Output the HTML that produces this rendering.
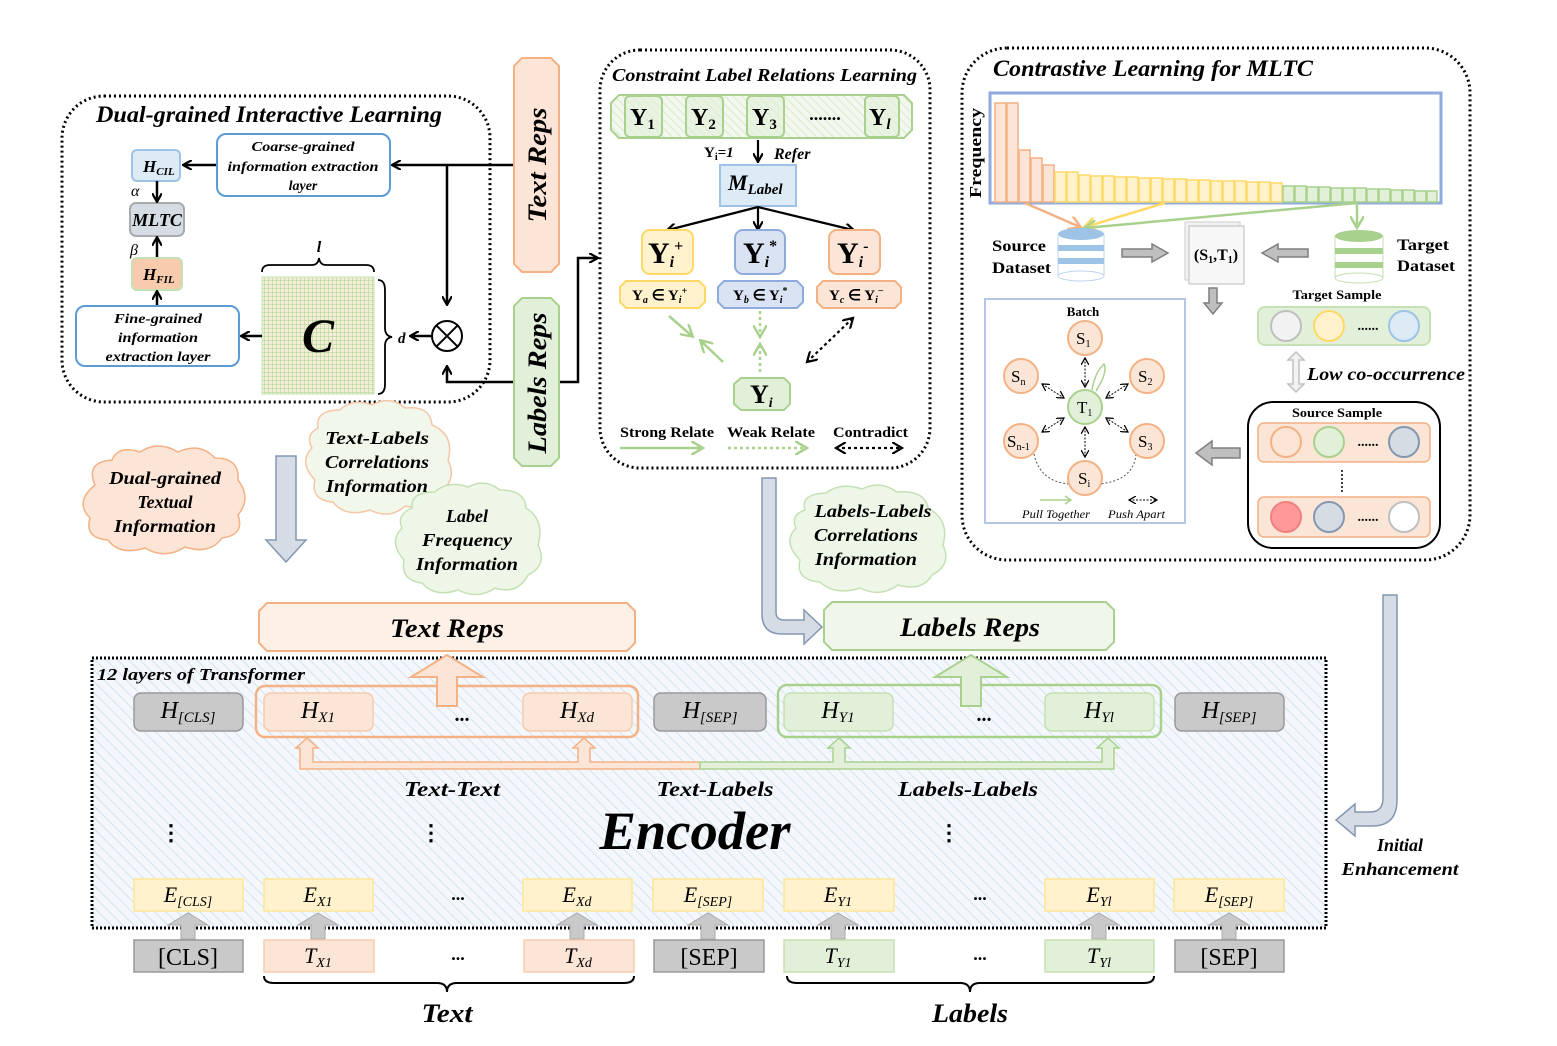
<!DOCTYPE html>
<html><head><meta charset="utf-8"><style>
html,body{margin:0;padding:0;background:#fff}
svg{display:block}
text{font-family:"Liberation Serif",serif}
.bi{font-weight:bold;font-style:italic}
.b{font-weight:bold}
</style></head><body>
<svg width="1557" height="1046" viewBox="0 0 1557 1046" xmlns="http://www.w3.org/2000/svg">
<defs>
<pattern id="hatch" width="8" height="8" patternUnits="userSpaceOnUse" patternTransform="rotate(-45)">
<rect width="8" height="8" fill="#f4f8fc"/><line x1="0" y1="0" x2="0" y2="8" stroke="#d5e2ef" stroke-width="2"/></pattern>
<pattern id="ghatch" width="6" height="6" patternUnits="userSpaceOnUse" patternTransform="rotate(-45)">
<rect width="6" height="6" fill="#f3f8ee"/><line x1="0" y1="0" x2="0" y2="6" stroke="#d9e9cc" stroke-width="2"/></pattern>
<pattern id="grid" width="4" height="4" patternUnits="userSpaceOnUse">
<rect width="4" height="4" fill="#f3efd6"/><path d="M0 0H4M0 0V4" stroke="#a9cf8f" stroke-width="1"/></pattern>
<marker id="ah" markerWidth="10" markerHeight="10" refX="8" refY="5" orient="auto" markerUnits="userSpaceOnUse"><path d="M0 0L9 5L0 10" fill="none" stroke="#000" stroke-width="2.2"/></marker>
<marker id="ahs" markerWidth="8" markerHeight="8" refX="7" refY="4" orient="auto-start-reverse" markerUnits="userSpaceOnUse"><path d="M0 0L7 4L0 8" fill="none" stroke="#000" stroke-width="1.3"/></marker>
<marker id="ahg" markerWidth="14" markerHeight="14" refX="11" refY="7" orient="auto" markerUnits="userSpaceOnUse"><path d="M0 0L12 7L0 14" fill="none" stroke="#a9d18e" stroke-width="2.5"/></marker>
<marker id="ahd" markerWidth="12" markerHeight="12" refX="10" refY="6" orient="auto-start-reverse" markerUnits="userSpaceOnUse"><path d="M0 0L10 6L0 12" fill="none" stroke="#000" stroke-width="2.2"/></marker>
<marker id="aho" markerWidth="14" markerHeight="14" refX="11" refY="7" orient="auto" markerUnits="userSpaceOnUse"><path d="M0 0L12 7L0 14" fill="none" stroke="#f4b183" stroke-width="2.5"/></marker>
<marker id="ahy" markerWidth="14" markerHeight="14" refX="11" refY="7" orient="auto" markerUnits="userSpaceOnUse"><path d="M0 0L12 7L0 14" fill="none" stroke="#ffd966" stroke-width="2.5"/></marker>
</defs>

<!-- ===== Box 1: Dual-grained ===== -->
<rect x="62" y="96" width="428" height="306" rx="42" fill="none" stroke="#000" stroke-width="3" stroke-dasharray="2 3"/>
<text x="96" y="122" class="bi" font-size="23" textLength="346" lengthAdjust="spacingAndGlyphs">Dual-grained Interactive Learning</text>
<rect x="132" y="150" width="48" height="31" rx="5" fill="#ddebf7" stroke="#9dc3e6" stroke-width="2"/>
<text x="143" y="172" class="bi" font-size="17">H<tspan font-size="11" dy="3">CIL</tspan></text>
<rect x="130" y="203" width="54" height="33" rx="6" fill="#d6dce4" stroke="#aaa" stroke-width="2"/>
<text x="157" y="226" class="bi" font-size="18" text-anchor="middle">MLTC</text>
<rect x="132" y="258" width="50" height="32" rx="5" fill="#f8cbad" stroke="#c5e0b4" stroke-width="2"/>
<text x="143" y="280" class="bi" font-size="17">H<tspan font-size="11" dy="3">FIL</tspan></text>
<text x="131" y="196" font-size="16" font-style="italic">α</text>
<text x="130" y="255" font-size="16" font-style="italic">β</text>
<line x1="157" y1="181" x2="157" y2="201" stroke="#000" stroke-width="2.5" marker-end="url(#ah)"/>
<line x1="157" y1="257" x2="157" y2="238" stroke="#000" stroke-width="2.5" marker-end="url(#ah)"/>
<line x1="157" y1="305" x2="157" y2="292" stroke="#000" stroke-width="2.5" marker-end="url(#ah)"/>
<rect x="217" y="134" width="173" height="62" rx="9" fill="#fff" stroke="#5b9bd5" stroke-width="2"/>
<text x="303" y="151" class="bi" font-size="14" text-anchor="middle" textLength="103" lengthAdjust="spacingAndGlyphs">Coarse-grained</text>
<text x="303" y="171" class="bi" font-size="14" text-anchor="middle" textLength="151" lengthAdjust="spacingAndGlyphs">information extraction</text>
<text x="303" y="190" class="bi" font-size="14" text-anchor="middle">layer</text>
<line x1="216" y1="165" x2="184" y2="165" stroke="#000" stroke-width="2.5" marker-end="url(#ah)"/>
<rect x="76" y="306" width="163" height="60" rx="9" fill="#fff" stroke="#5b9bd5" stroke-width="2"/>
<text x="158" y="323" class="bi" font-size="14" text-anchor="middle" textLength="88" lengthAdjust="spacingAndGlyphs">Fine-grained</text>
<text x="158" y="342" class="bi" font-size="14" text-anchor="middle" textLength="80" lengthAdjust="spacingAndGlyphs">information</text>
<text x="158" y="361" class="bi" font-size="14" text-anchor="middle" textLength="105" lengthAdjust="spacingAndGlyphs">extraction layer</text>
<rect x="262" y="277" width="112" height="117" fill="url(#grid)" stroke="#c5e0b4"/>
<text x="318" y="352" class="bi" font-size="48" text-anchor="middle">C</text>
<path d="M262 272 Q262 265 270 265 L312 265 Q318 265 319 258 Q320 265 326 265 L366 265 Q374 265 374 272" fill="none" stroke="#000" stroke-width="1.8"/>
<text x="319" y="252" class="bi" font-size="16" text-anchor="middle">l</text>
<path d="M378 280 Q385 280 385 290 L385 328 Q385 336 392 337 Q385 338 385 346 L385 384 Q385 394 378 394" fill="none" stroke="#000" stroke-width="1.8"/>
<text x="398" y="343" class="bi" font-size="15">d</text>
<line x1="262" y1="336" x2="242" y2="336" stroke="#000" stroke-width="2.5" marker-end="url(#ah)"/>
<circle cx="447" cy="336" r="15" fill="#fff" stroke="#000" stroke-width="2"/>
<path d="M436.4 325.4L457.6 346.6M457.6 325.4L436.4 346.6" stroke="#000" stroke-width="2"/>
<line x1="432" y1="336" x2="411" y2="336" stroke="#000" stroke-width="2.5" marker-end="url(#ah)"/>
<line x1="514" y1="165" x2="393" y2="165" stroke="#000" stroke-width="2.5" marker-end="url(#ah)"/>
<line x1="447" y1="165" x2="447" y2="304" stroke="#000" stroke-width="2.5" marker-end="url(#ah)"/>
<path d="M514 382 L447 382 L447 367" fill="none" stroke="#000" stroke-width="2.5" marker-end="url(#ah)"/>
<path d="M559 382 L578 382 L578 258 L597 258" fill="none" stroke="#000" stroke-width="2.5" marker-end="url(#ah)"/>

<!-- vertical reps boxes -->
<path d="M522 58 H551 L559 66 V264 L551 272 H522 L514 264 V66 Z" fill="#fce4d6" stroke="#f4b183" stroke-width="2"/>
<text transform="translate(546,165) rotate(-90)" class="bi" font-size="26" text-anchor="middle" textLength="115" lengthAdjust="spacingAndGlyphs">Text Reps</text>
<path d="M522 298 H551 L559 306 V458 L551 466 H522 L514 458 V306 Z" fill="#e2f0d9" stroke="#a9d18e" stroke-width="2"/>
<text transform="translate(546,383) rotate(-90)" class="bi" font-size="26" text-anchor="middle" textLength="141" lengthAdjust="spacingAndGlyphs">Labels Reps</text>

<!-- ===== Box 2: Constraint ===== -->
<rect x="600" y="50" width="330" height="418" rx="40" fill="none" stroke="#000" stroke-width="3" stroke-dasharray="2 3"/>
<text x="612" y="81" class="bi" font-size="18" textLength="305" lengthAdjust="spacingAndGlyphs">Constraint Label Relations Learning</text>
<path d="M619 95 H904 L912 103 V130 L904 138 H619 L611 130 V103 Z" fill="url(#ghatch)" stroke="#a9d18e" stroke-width="2"/>
<g fill="#e2f0d9" fill-opacity="0.6" stroke="#a9d18e" stroke-width="2">
<rect x="625" y="96" width="37" height="41" rx="5"/><rect x="686" y="96" width="37" height="41" rx="5"/>
<rect x="747" y="96" width="37" height="41" rx="5"/><rect x="865" y="96" width="34" height="41" rx="5"/></g>
<g class="b" font-size="24"><text x="630" y="125">Y<tspan font-size="15" dy="4">1</tspan></text>
<text x="691" y="125">Y<tspan font-size="15" dy="4">2</tspan></text>
<text x="752" y="125">Y<tspan font-size="15" dy="4">3</tspan></text>
<text x="869" y="125">Y<tspan font-size="15" dy="4" font-style="italic">l</tspan></text></g>
<text x="825" y="120" class="b" font-size="18" text-anchor="middle">.......</text>
<text x="704" y="157" class="b" font-size="15">Y<tspan font-size="10" dy="3">i</tspan><tspan dy="-3" font-style="italic">=1</tspan></text>
<line x1="758" y1="140" x2="758" y2="161" stroke="#000" stroke-width="2.2" marker-end="url(#ah)"/>
<text x="774" y="159" class="bi" font-size="16">Refer</text>
<rect x="720" y="165" width="76" height="41" fill="#ddebf7" stroke="#9dc3e6" stroke-width="2"/>
<text x="728" y="190" class="bi" font-size="22">M<tspan font-size="15" dy="4">Label</tspan></text>
<line x1="758" y1="207" x2="668" y2="230" stroke="#000" stroke-width="2.2" marker-end="url(#ah)"/>
<line x1="758" y1="207" x2="758" y2="229" stroke="#000" stroke-width="2.2" marker-end="url(#ah)"/>
<line x1="758" y1="207" x2="853" y2="230" stroke="#000" stroke-width="2.2" marker-end="url(#ah)"/>
<rect x="642" y="230" width="51" height="44" rx="8" fill="#fff2cc" stroke="#ffd966" stroke-width="2"/>
<rect x="735" y="230" width="50" height="44" rx="8" fill="#dae3f3" stroke="#8faadc" stroke-width="2"/>
<rect x="829" y="230" width="51" height="44" rx="8" fill="#fbe5d6" stroke="#f4b183" stroke-width="2"/>
<g class="b" font-size="30"><text x="648" y="263">Y<tspan font-size="16" dy="4" font-style="italic">i</tspan><tspan font-size="16" dy="-16">+</tspan></text>
<text x="743" y="263">Y<tspan font-size="16" dy="4" font-style="italic">i</tspan><tspan font-size="16" dy="-16">*</tspan></text>
<text x="837" y="263">Y<tspan font-size="16" dy="4" font-style="italic">i</tspan><tspan font-size="16" dy="-16">-</tspan></text></g>
<path d="M626 281 H699 L705 287 V302 L699 308 H626 L620 302 V287 Z" fill="#fff2cc" stroke="#ffd966" stroke-width="2"/>
<path d="M724 281 H797 L803 287 V302 L797 308 H724 L718 302 V287 Z" fill="#dae3f3" stroke="#8faadc" stroke-width="2"/>
<path d="M823 281 H895 L901 287 V302 L895 308 H823 L817 302 V287 Z" fill="#fbe5d6" stroke="#f4b183" stroke-width="2"/>
<g class="b" font-size="15"><text x="632" y="300">Y<tspan font-size="10" dy="3" font-style="italic">a</tspan><tspan dy="-3"> ∈ Y</tspan><tspan font-size="10" dy="3" font-style="italic">i</tspan><tspan font-size="10" dy="-9">+</tspan></text>
<text x="733" y="300">Y<tspan font-size="10" dy="3" font-style="italic">b</tspan><tspan dy="-3"> ∈ Y</tspan><tspan font-size="10" dy="3" font-style="italic">i</tspan><tspan font-size="10" dy="-9">*</tspan></text>
<text x="829" y="300">Y<tspan font-size="10" dy="3" font-style="italic">c</tspan><tspan dy="-3"> ∈ Y</tspan><tspan font-size="10" dy="3" font-style="italic">i</tspan><tspan font-size="10" dy="-9">−</tspan></text></g>
<path d="M741 378 H784 L790 384 V404 L784 410 H741 L734 404 V384 Z" fill="#e2f0d9" stroke="#a9d18e" stroke-width="2"/>
<text x="750" y="403" class="b" font-size="26">Y<tspan font-size="14" dy="4" font-style="italic">i</tspan></text>
<line x1="669" y1="316" x2="692" y2="336" stroke="#a9d18e" stroke-width="2.5" marker-end="url(#ahg)"/>
<line x1="723" y1="362" x2="701" y2="341" stroke="#a9d18e" stroke-width="2.5" marker-end="url(#ahg)"/>
<line x1="760" y1="311" x2="760" y2="336" stroke="#a9d18e" stroke-width="2.5" stroke-dasharray="3 3" marker-end="url(#ahg)"/>
<line x1="760" y1="372" x2="760" y2="345" stroke="#a9d18e" stroke-width="2.5" stroke-dasharray="3 3" marker-end="url(#ahg)"/>
<line x1="807" y1="362" x2="853" y2="318" stroke="#000" stroke-width="2.2" stroke-dasharray="3 3" marker-start="url(#ahd)" marker-end="url(#ahd)"/>
<g class="b" font-size="15"><text x="620" y="437" textLength="94" lengthAdjust="spacingAndGlyphs">Strong Relate</text><text x="727" y="437" textLength="88" lengthAdjust="spacingAndGlyphs">Weak Relate</text><text x="833" y="437" textLength="75" lengthAdjust="spacingAndGlyphs">Contradict</text></g>
<line x1="620" y1="448" x2="702" y2="448" stroke="#a9d18e" stroke-width="2.5" marker-end="url(#ahg)"/>
<line x1="728" y1="448" x2="806" y2="448" stroke="#a9d18e" stroke-width="2.5" stroke-dasharray="3 3" marker-end="url(#ahg)"/>
<line x1="836" y1="448" x2="902" y2="448" stroke="#000" stroke-width="2.2" stroke-dasharray="3 3" marker-start="url(#ahd)" marker-end="url(#ahd)"/>

<!-- ===== Box 3: Contrastive ===== -->
<rect x="962" y="48" width="508" height="512" rx="45" fill="none" stroke="#000" stroke-width="3" stroke-dasharray="2 3"/>
<text x="993" y="76" class="bi" font-size="23" textLength="320" lengthAdjust="spacingAndGlyphs">Contrastive Learning for MLTC</text>
<rect x="990" y="93" width="451" height="110" fill="#fff" stroke="#8faadc" stroke-width="3"/>
<text transform="translate(981,153) rotate(-90)" class="b" font-size="17" text-anchor="middle" textLength="90" lengthAdjust="spacingAndGlyphs">Frequency</text>
<g stroke-width="1.5">
<rect x="995" y="103" width="11" height="99" fill="#fbe5d6" stroke="#f4b183"/>
<rect x="1007" y="103" width="11" height="99" fill="#fbe5d6" stroke="#f4b183"/>
<rect x="1019" y="150" width="11" height="52" fill="#fbe5d6" stroke="#f4b183"/>
<rect x="1031" y="158" width="11" height="44" fill="#fbe5d6" stroke="#f4b183"/>
<rect x="1043" y="165" width="11" height="37" fill="#fbe5d6" stroke="#f4b183"/>
<rect x="1055" y="172" width="11" height="30" fill="#fff2cc" stroke="#ffd966"/>
<rect x="1067" y="172" width="11" height="30" fill="#fff2cc" stroke="#ffd966"/>
<rect x="1079" y="175" width="11" height="27" fill="#fff2cc" stroke="#ffd966"/>
<rect x="1091" y="176" width="11" height="26" fill="#fff2cc" stroke="#ffd966"/>
<rect x="1103" y="176" width="11" height="26" fill="#fff2cc" stroke="#ffd966"/>
<rect x="1115" y="177" width="11" height="25" fill="#fff2cc" stroke="#ffd966"/>
<rect x="1127" y="177" width="11" height="25" fill="#fff2cc" stroke="#ffd966"/>
<rect x="1139" y="178" width="11" height="24" fill="#fff2cc" stroke="#ffd966"/>
<rect x="1151" y="178" width="11" height="24" fill="#fff2cc" stroke="#ffd966"/>
<rect x="1163" y="179" width="11" height="23" fill="#fff2cc" stroke="#ffd966"/>
<rect x="1175" y="179" width="11" height="23" fill="#fff2cc" stroke="#ffd966"/>
<rect x="1187" y="180" width="11" height="22" fill="#fff2cc" stroke="#ffd966"/>
<rect x="1199" y="180" width="11" height="22" fill="#fff2cc" stroke="#ffd966"/>
<rect x="1211" y="181" width="11" height="21" fill="#fff2cc" stroke="#ffd966"/>
<rect x="1223" y="181" width="11" height="21" fill="#fff2cc" stroke="#ffd966"/>
<rect x="1235" y="181" width="11" height="21" fill="#fff2cc" stroke="#ffd966"/>
<rect x="1247" y="182" width="11" height="20" fill="#fff2cc" stroke="#ffd966"/>
<rect x="1259" y="182" width="11" height="20" fill="#fff2cc" stroke="#ffd966"/>
<rect x="1271" y="183" width="11" height="19" fill="#fff2cc" stroke="#ffd966"/>
<rect x="1283" y="186" width="11" height="16" fill="#e2f0d9" stroke="#a9d18e"/>
<rect x="1295" y="186" width="11" height="16" fill="#e2f0d9" stroke="#a9d18e"/>
<rect x="1307" y="187" width="11" height="15" fill="#e2f0d9" stroke="#a9d18e"/>
<rect x="1319" y="187" width="11" height="15" fill="#e2f0d9" stroke="#a9d18e"/>
<rect x="1331" y="188" width="11" height="14" fill="#e2f0d9" stroke="#a9d18e"/>
<rect x="1343" y="188" width="11" height="14" fill="#e2f0d9" stroke="#a9d18e"/>
<rect x="1355" y="188" width="11" height="14" fill="#e2f0d9" stroke="#a9d18e"/>
<rect x="1367" y="189" width="11" height="13" fill="#e2f0d9" stroke="#a9d18e"/>
<rect x="1379" y="189" width="11" height="13" fill="#e2f0d9" stroke="#a9d18e"/>
<rect x="1391" y="190" width="11" height="12" fill="#e2f0d9" stroke="#a9d18e"/>
<rect x="1403" y="190" width="11" height="12" fill="#e2f0d9" stroke="#a9d18e"/>
<rect x="1415" y="191" width="11" height="11" fill="#e2f0d9" stroke="#a9d18e"/>
<rect x="1427" y="191" width="10" height="11" fill="#e2f0d9" stroke="#a9d18e"/>
</g>
<line x1="1025" y1="203" x2="1080" y2="227" stroke="#f4b183" stroke-width="2.5" marker-end="url(#aho)"/>
<line x1="1165" y1="203" x2="1085" y2="227" stroke="#ffd966" stroke-width="2.5" marker-end="url(#ahy)"/>
<line x1="1357" y1="203" x2="1085" y2="228" stroke="#a9d18e" stroke-width="2.5" marker-end="url(#ahg)"/>
<line x1="1357" y1="203" x2="1357" y2="227" stroke="#a9d18e" stroke-width="2.5" marker-end="url(#ahg)"/>
<g>
<rect x="1058" y="234" width="46" height="42" fill="#fff" stroke="#bdd7ee"/>
<ellipse cx="1081" cy="234" rx="23" ry="6" fill="#9dc3e6"/>
<rect x="1058" y="245" width="46" height="6" fill="#9dc3e6"/>
<rect x="1058" y="258" width="46" height="6" fill="#9dc3e6"/>
<ellipse cx="1081" cy="276" rx="23" ry="5" fill="#fff" stroke="#bdd7ee"/>
</g>
<text x="992" y="251" class="b" font-size="16" textLength="54" lengthAdjust="spacingAndGlyphs">Source</text>
<text x="992" y="273" class="b" font-size="16" textLength="59" lengthAdjust="spacingAndGlyphs">Dataset</text>
<path d="M1122 249 H1152 V244 L1168 253 L1152 262 V257 H1122 Z" fill="#bfbfbf" stroke="#7f7f7f" stroke-width="1.5"/>
<rect x="1185" y="222" width="55" height="58" fill="#f2f2f2" stroke="#ccc"/>
<rect x="1189" y="226" width="55" height="58" fill="#f7f7f7" stroke="#bbb"/>
<text x="1216" y="260" class="b" font-size="16" text-anchor="middle">(S<tspan font-size="10" dy="3">1</tspan><tspan dy="-3">,T</tspan><tspan font-size="10" dy="3">1</tspan><tspan dy="-3">)</tspan></text>
<path d="M1308 249 H1278 V244 L1262 253 L1278 262 V257 H1308 Z" fill="#bfbfbf" stroke="#7f7f7f" stroke-width="1.5"/>
<g>
<rect x="1335" y="236" width="48" height="42" fill="#fff" stroke="#c5e0b4"/>
<ellipse cx="1359" cy="236" rx="24" ry="6" fill="#a9d18e"/>
<rect x="1335" y="248" width="48" height="6" fill="#a9d18e"/>
<rect x="1335" y="262" width="48" height="6" fill="#a9d18e"/>
<ellipse cx="1359" cy="278" rx="24" ry="5" fill="#fff" stroke="#c5e0b4"/>
</g>
<text x="1397" y="250" class="b" font-size="16" textLength="52" lengthAdjust="spacingAndGlyphs">Target</text>
<text x="1397" y="271" class="b" font-size="16" textLength="58" lengthAdjust="spacingAndGlyphs">Dataset</text>
<path d="M1209 288 V303 H1204 L1213 314 L1222 303 H1217 V288 Z" fill="#bfbfbf" stroke="#7f7f7f" stroke-width="1.5"/>
<text x="1337" y="299" class="b" font-size="13" text-anchor="middle" textLength="89" lengthAdjust="spacingAndGlyphs">Target Sample</text>
<rect x="1258" y="307" width="172" height="38" rx="7" fill="#e2f0d9" stroke="#c5e0b4" stroke-width="2"/>
<circle cx="1286" cy="326" r="15" fill="#f2f2f2" stroke="#bfbfbf" stroke-width="2"/>
<circle cx="1329" cy="326" r="15" fill="#fff2cc" stroke="#ffd966" stroke-width="2"/>
<circle cx="1404" cy="326" r="15" fill="#ddebf7" stroke="#9dc3e6" stroke-width="2"/>
<text x="1368" y="330" class="b" font-size="14" text-anchor="middle">......</text>
<path d="M1296 352 L1304 360 H1299 V384 H1304 L1296 392 L1288 384 H1293 V360 H1288 Z" fill="#f2f2f2" stroke="#bfbfbf" stroke-width="1.5"/>
<text x="1307" y="380" class="bi" font-size="18" textLength="158" lengthAdjust="spacingAndGlyphs">Low co-occurrence</text>
<rect x="1248" y="402" width="192" height="146" rx="25" fill="#fff" stroke="#000" stroke-width="2"/>
<text x="1337" y="417" class="b" font-size="13" text-anchor="middle" textLength="90" lengthAdjust="spacingAndGlyphs">Source Sample</text>
<rect x="1258" y="423" width="172" height="39" rx="6" fill="#fbe5d6" stroke="#f4b183" stroke-width="1.5"/>
<circle cx="1286" cy="442" r="15" fill="#fbe5d6" stroke="#f4b183" stroke-width="2"/>
<circle cx="1329" cy="442" r="15" fill="#e2f0d9" stroke="#a9d18e" stroke-width="2"/>
<circle cx="1404" cy="442" r="15" fill="#d6dce4" stroke="#8497b0" stroke-width="2"/>
<text x="1368" y="446" class="b" font-size="14" text-anchor="middle">......</text>
<line x1="1342" y1="470" x2="1342" y2="492" stroke="#000" stroke-width="1.5" stroke-dasharray="2 2"/>
<rect x="1258" y="497" width="172" height="40" rx="6" fill="#fbe5d6" stroke="#f4b183" stroke-width="1.5"/>
<circle cx="1286" cy="517" r="15" fill="#ff9999" stroke="#f08080" stroke-width="2"/>
<circle cx="1329" cy="517" r="15" fill="#d6dce4" stroke="#8497b0" stroke-width="2"/>
<circle cx="1404" cy="517" r="15" fill="#fff" stroke="#bfbfbf" stroke-width="2"/>
<text x="1368" y="521" class="b" font-size="14" text-anchor="middle">......</text>
<path d="M1240 448 H1212 V441 L1196 453 L1212 465 V458 H1240 Z" fill="#bfbfbf" stroke="#7f7f7f" stroke-width="1.5"/>
<rect x="985" y="299" width="200" height="224" fill="#fff" stroke="#b4c7e7" stroke-width="2"/>
<text x="1083" y="316" class="b" font-size="13" text-anchor="middle">Batch</text>
<path d="M1034 454 Q1040 482 1070 484 M1136 454 Q1134 480 1100 484" fill="none" stroke="#555" stroke-width="1" stroke-dasharray="2 2"/>
<g stroke="#000" stroke-width="1" stroke-dasharray="2 1.5" marker-start="url(#ahs)" marker-end="url(#ahs)">
<line x1="1085" y1="358" x2="1085" y2="387"/>
<line x1="1085" y1="427" x2="1085" y2="457"/>
<line x1="1042" y1="384" x2="1064" y2="398"/>
<line x1="1128" y1="384" x2="1106" y2="398"/>
<line x1="1042" y1="432" x2="1064" y2="418"/>
<line x1="1128" y1="432" x2="1106" y2="418"/>
</g>
<path d="M1092 390 Q1095 372 1104 364 Q1108 372 1096 391" fill="none" stroke="#a9d18e" stroke-width="1.5"/>
<g stroke="#f4b183" stroke-width="2" fill="#fbe5d6">
<circle cx="1085" cy="338" r="17"/><circle cx="1021" cy="376" r="17"/><circle cx="1147" cy="376" r="17"/>
<circle cx="1021" cy="441" r="17"/><circle cx="1147" cy="441" r="17"/><circle cx="1085" cy="478" r="17"/></g>
<circle cx="1085" cy="407" r="17" fill="#e2f0d9" stroke="#a9d18e" stroke-width="2"/>
<g font-size="17"><text x="1076" y="344">S<tspan font-size="10" dy="3">1</tspan></text>
<text x="1011" y="382">S<tspan font-size="10" dy="3">n</tspan></text>
<text x="1138" y="382">S<tspan font-size="10" dy="3">2</tspan></text>
<text x="1077" y="413">T<tspan font-size="10" dy="3">1</tspan></text>
<text x="1007" y="447">S<tspan font-size="10" dy="3">n-1</tspan></text>
<text x="1138" y="447">S<tspan font-size="10" dy="3">3</tspan></text>
<text x="1078" y="484">S<tspan font-size="10" dy="3">i</tspan></text></g>
<line x1="1040" y1="500" x2="1070" y2="500" stroke="#a9d18e" stroke-width="1.5"/>
<path d="M1065 496 L1071 500 L1065 504" fill="none" stroke="#a9d18e" stroke-width="1.5"/>
<line x1="1129" y1="500" x2="1157" y2="500" stroke="#000" stroke-width="1" stroke-dasharray="2 1.5" marker-start="url(#ahs)" marker-end="url(#ahs)"/>
<text x="1022" y="518" font-style="italic" font-size="12" textLength="68" lengthAdjust="spacingAndGlyphs">Pull Together</text>
<text x="1108" y="518" font-style="italic" font-size="12" textLength="57" lengthAdjust="spacingAndGlyphs">Push Apart</text>

<!-- ===== clouds ===== -->
<g stroke-width="1.5">
<path d="M95 485 Q85 462 112 460 Q118 445 140 452 Q158 440 178 452 Q200 442 215 458 Q240 458 238 480 Q252 498 238 515 Q245 535 222 538 Q210 555 185 547 Q165 560 145 548 Q120 556 108 540 Q84 538 90 518 Q74 502 95 485 Z" fill="#fce4d6" stroke="#f4b183"/>
<path d="M318 428 Q315 410 340 410 Q352 398 372 405 Q390 395 405 408 Q430 405 432 425 Q455 435 448 460 Q458 482 438 492 Q430 512 405 506 Q390 520 370 510 Q345 518 333 502 Q310 500 315 480 Q298 462 312 448 Q305 435 318 428 Z" fill="#f1f7ea" stroke="#f4c7a6"/>
<path d="M412 508 Q410 492 435 492 Q448 480 468 487 Q485 478 500 490 Q525 490 526 508 Q545 520 538 545 Q548 565 528 575 Q518 595 495 588 Q478 600 458 590 Q435 598 422 583 Q400 580 404 560 Q388 542 402 528 Q396 515 412 508 Z" fill="#eef6e8" stroke="#c5e0b4"/>
<path d="M805 510 Q800 494 826 493 Q840 482 862 489 Q880 480 897 492 Q925 490 928 508 Q950 520 943 545 Q952 565 932 575 Q922 592 898 585 Q880 598 860 588 Q835 596 820 582 Q795 580 800 560 Q782 542 796 528 Q790 515 805 510 Z" fill="#eef6e8" stroke="#c5e0b4"/>
</g>
<g class="bi" font-size="18" text-anchor="middle">
<text x="165" y="484" textLength="112" lengthAdjust="spacingAndGlyphs">Dual-grained</text><text x="165" y="508">Textual</text><text x="165" y="532" textLength="102" lengthAdjust="spacingAndGlyphs">Information</text>
<text x="377" y="444" textLength="104" lengthAdjust="spacingAndGlyphs">Text-Labels</text><text x="377" y="468" textLength="104" lengthAdjust="spacingAndGlyphs">Correlations</text><text x="377" y="492" textLength="102" lengthAdjust="spacingAndGlyphs">Information</text>
<text x="467" y="522">Label</text><text x="467" y="546" textLength="90" lengthAdjust="spacingAndGlyphs">Frequency</text><text x="467" y="570" textLength="102" lengthAdjust="spacingAndGlyphs">Information</text>
<text x="873" y="517" textLength="117" lengthAdjust="spacingAndGlyphs">Labels-Labels</text><text x="866" y="541" textLength="104" lengthAdjust="spacingAndGlyphs">Correlations</text><text x="866" y="565" textLength="102" lengthAdjust="spacingAndGlyphs">Information</text>
</g>

<!-- big grey-blue arrows -->
<path d="M276 456 H296 V540 H306 L286 562 L266 540 H276 Z" fill="#d6dce5" stroke="#8497b0" stroke-width="1.5"/>
<path d="M762 478 H776 V612 Q776 620 784 620 H804 V610 L822 627 L804 644 V634 H782 Q762 634 762 614 Z" fill="#d6dce5" stroke="#8497b0" stroke-width="1.5"/>
<path d="M1383 595 H1397 V800 Q1397 826 1372 826 H1355 V836 L1336 820 L1355 804 V812 H1370 Q1383 812 1383 798 Z" fill="#d6dce5" stroke="#8497b0" stroke-width="1.5"/>
<text x="1400" y="851" class="bi" font-size="18" text-anchor="middle">Initial</text>
<text x="1400" y="875" class="bi" font-size="18" text-anchor="middle" textLength="117" lengthAdjust="spacingAndGlyphs">Enhancement</text>

<!-- reps boxes -->
<path d="M267 603 H627 L635 611 V643 L627 651 H267 L259 643 V611 Z" fill="#fdf0e7" stroke="#f4b183" stroke-width="2"/>
<text x="447" y="637" class="bi" font-size="26" text-anchor="middle" textLength="114" lengthAdjust="spacingAndGlyphs">Text Reps</text>
<path d="M832 602 H1106 L1114 610 V642 L1106 650 H832 L824 642 V610 Z" fill="#f0f7ea" stroke="#a9d18e" stroke-width="2"/>
<text x="970" y="636" class="bi" font-size="26" text-anchor="middle" textLength="140" lengthAdjust="spacingAndGlyphs">Labels Reps</text>

<!-- ===== Encoder ===== -->
<rect x="92" y="658" width="1234" height="270" fill="url(#hatch)" stroke="#000" stroke-width="3" stroke-dasharray="2 2"/>
<text x="97" y="680" class="bi" font-size="17" textLength="208" lengthAdjust="spacingAndGlyphs">12 layers of Transformer</text>
<rect x="256" y="686" width="382" height="51" rx="9" fill="none" stroke="#f4b183" stroke-width="2.5"/>
<rect x="778" y="685" width="383" height="52" rx="9" fill="none" stroke="#a9d18e" stroke-width="2.5"/>
<path d="M437 706 V677 H411 L447 655 L483 677 H457 V706 Z" fill="#fce4d6" stroke="#f4b183" stroke-width="2"/>
<path d="M961 706 V677 H935 L971 655 L1007 677 H981 V706 Z" fill="#e2f0d9" stroke="#a9d18e" stroke-width="2"/>
<g stroke-width="1.5">
<rect x="134" y="693" width="109" height="38" rx="7" fill="#c9c9c9" stroke="#999"/>
<rect x="264" y="693" width="109" height="38" rx="7" fill="#fbe5d6" stroke="#f8cbad"/>
<rect x="523" y="693" width="109" height="38" rx="7" fill="#fbe5d6" stroke="#f8cbad"/>
<rect x="654" y="693" width="112" height="38" rx="7" fill="#c9c9c9" stroke="#999"/>
<rect x="784" y="693" width="109" height="38" rx="7" fill="#e2f0d9" stroke="#c5e0b4"/>
<rect x="1045" y="693" width="109" height="38" rx="7" fill="#e2f0d9" stroke="#c5e0b4"/>
<rect x="1175" y="693" width="109" height="38" rx="7" fill="#c9c9c9" stroke="#999"/>
</g>
<g font-style="italic" font-size="24" text-anchor="middle">
<text x="188" y="718">H<tspan font-size="15" dy="4">[CLS]</tspan></text>
<text x="318" y="718">H<tspan font-size="15" dy="4">X1</tspan></text>
<text x="577" y="718">H<tspan font-size="15" dy="4">Xd</tspan></text>
<text x="710" y="718">H<tspan font-size="15" dy="4">[SEP]</tspan></text>
<text x="838" y="718">H<tspan font-size="15" dy="4">Y1</tspan></text>
<text x="1099" y="718">H<tspan font-size="15" dy="4">Yl</tspan></text>
<text x="1229" y="718">H<tspan font-size="15" dy="4">[SEP]</tspan></text>
</g>
<text x="462" y="721" class="b" font-size="20" text-anchor="middle">...</text>
<text x="984" y="721" class="b" font-size="20" text-anchor="middle">...</text>
<path d="M300 769 V748 H296 L307 738 L318 748 H313 V762 H578 V748 H573 L584 738 L595 748 H590 V762 H700 V769 Z" fill="#fbe5d6" stroke="#f4b183" stroke-width="1.5"/>
<path d="M700 769 V762 H833 V748 H828 L839 738 L850 748 H845 V762 H1102 V748 H1097 L1108 738 L1119 748 H1114 V769 Z" fill="#e2f0d9" stroke="#a9d18e" stroke-width="1.5"/>
<g class="bi" font-size="21" text-anchor="middle">
<text x="452" y="796" textLength="96" lengthAdjust="spacingAndGlyphs">Text-Text</text><text x="715" y="796" textLength="117" lengthAdjust="spacingAndGlyphs">Text-Labels</text><text x="968" y="796" textLength="140" lengthAdjust="spacingAndGlyphs">Labels-Labels</text></g>
<text x="695" y="849" class="bi" font-size="54" text-anchor="middle" textLength="191" lengthAdjust="spacingAndGlyphs">Encoder</text>
<g class="b" font-size="22" text-anchor="middle">
<text x="171" y="840">⋮</text><text x="431" y="840">⋮</text><text x="949" y="840">⋮</text></g>
<g fill="#fff2cc" stroke="#ffe699" stroke-width="1.5">
<rect x="134" y="879" width="109" height="32"/><rect x="264" y="879" width="109" height="32"/>
<rect x="523" y="879" width="109" height="32"/><rect x="653" y="879" width="110" height="32"/>
<rect x="784" y="879" width="110" height="32"/><rect x="1045" y="879" width="109" height="32"/>
<rect x="1174" y="879" width="110" height="32"/></g>
<g font-style="italic" font-size="22" text-anchor="middle">
<text x="188" y="902">E<tspan font-size="14" dy="4">[CLS]</tspan></text>
<text x="318" y="902">E<tspan font-size="14" dy="4">X1</tspan></text>
<text x="577" y="902">E<tspan font-size="14" dy="4">Xd</tspan></text>
<text x="708" y="902">E<tspan font-size="14" dy="4">[SEP]</tspan></text>
<text x="838" y="902">E<tspan font-size="14" dy="4">Y1</tspan></text>
<text x="1099" y="902">E<tspan font-size="14" dy="4">Yl</tspan></text>
<text x="1229" y="902">E<tspan font-size="14" dy="4">[SEP]</tspan></text>
</g>
<text x="458" y="900" class="b" font-size="18" text-anchor="middle">...</text>
<text x="980" y="900" class="b" font-size="18" text-anchor="middle">...</text>
<g fill="#c9c9c9" stroke="#aaa" stroke-width="1">
<path d="M181 939 V925 H168 L188 913 L208 925 H195 V939 Z"/>
<path d="M311 939 V925 H298 L318 913 L338 925 H325 V939 Z"/>
<path d="M570 939 V925 H557 L577 913 L597 925 H584 V939 Z"/>
<path d="M701 939 V925 H688 L708 913 L728 925 H715 V939 Z"/>
<path d="M831 939 V925 H818 L838 913 L858 925 H845 V939 Z"/>
<path d="M1092 939 V925 H1079 L1099 913 L1119 925 H1106 V939 Z"/>
<path d="M1222 939 V925 H1209 L1229 913 L1249 925 H1236 V939 Z"/>
</g>
<g stroke-width="1.5">
<rect x="134" y="940" width="109" height="32" fill="#c9c9c9" stroke="#999"/>
<rect x="264" y="940" width="110" height="32" fill="#fbe5d6" stroke="#f8cbad"/>
<rect x="524" y="940" width="110" height="32" fill="#fbe5d6" stroke="#f8cbad"/>
<rect x="654" y="940" width="110" height="32" fill="#c9c9c9" stroke="#999"/>
<rect x="784" y="940" width="110" height="32" fill="#e2f0d9" stroke="#c5e0b4"/>
<rect x="1045" y="940" width="109" height="32" fill="#e2f0d9" stroke="#c5e0b4"/>
<rect x="1175" y="940" width="109" height="32" fill="#c9c9c9" stroke="#999"/>
</g>
<g font-size="24" text-anchor="middle">
<text x="188" y="965">[CLS]</text><text x="709" y="965">[SEP]</text><text x="1229" y="965">[SEP]</text></g>
<g font-style="italic" font-size="22" text-anchor="middle">
<text x="318" y="963">T<tspan font-size="14" dy="4">X1</tspan></text>
<text x="578" y="963">T<tspan font-size="14" dy="4">Xd</tspan></text>
<text x="838" y="963">T<tspan font-size="14" dy="4">Y1</tspan></text>
<text x="1099" y="963">T<tspan font-size="14" dy="4">Yl</tspan></text></g>
<text x="458" y="960" class="b" font-size="18" text-anchor="middle">...</text>
<text x="980" y="960" class="b" font-size="18" text-anchor="middle">...</text>
<path d="M264 976 Q264 983 274 983 L437 983 Q447 983 447 992 Q447 983 457 983 L624 983 Q634 983 634 976" fill="none" stroke="#000" stroke-width="2"/>
<path d="M787 976 Q787 983 797 983 L960 983 Q970 983 970 992 Q970 983 980 983 L1144 983 Q1154 983 1154 976" fill="none" stroke="#000" stroke-width="2"/>
<text x="447" y="1022" class="bi" font-size="26" text-anchor="middle" textLength="51" lengthAdjust="spacingAndGlyphs">Text</text>
<text x="970" y="1022" class="bi" font-size="26" text-anchor="middle" textLength="76" lengthAdjust="spacingAndGlyphs">Labels</text>
</svg>
</body></html>
